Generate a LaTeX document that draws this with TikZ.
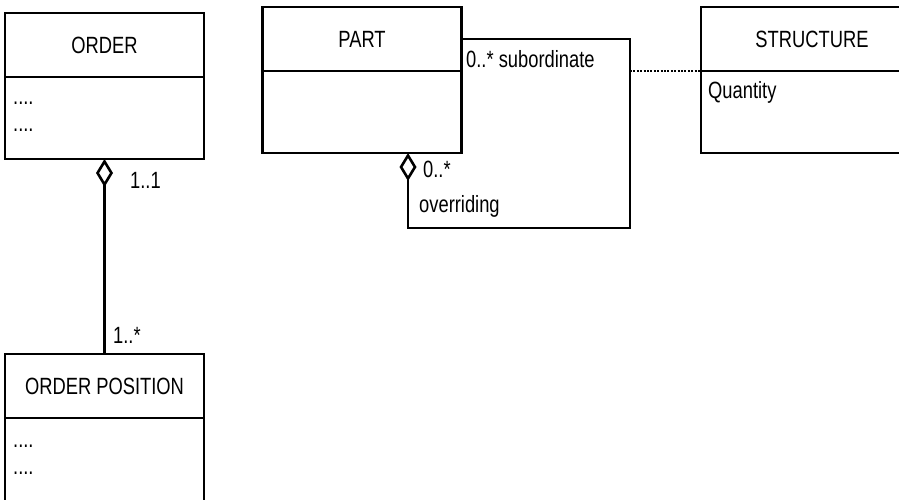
\documentclass[tikz,border=0pt]{standalone}
\usepackage{fontspec}
\setmainfont{Liberation Sans}[FakeStretch=0.78]
\usetikzlibrary{arrows.meta,calc}

\begin{document}
\begin{tikzpicture}[
    x=1pt, y=-1pt,
    cls/.style={draw, line width=2.6pt, outer sep=0pt, minimum width=#1, minimum height=64pt,
      font=\fontsize{23.5}{28}\selectfont},
    cls/.default=199pt,
    attrs/.style={draw, line width=2.6pt, outer sep=0pt, minimum width=#1, minimum height=82pt},
    attrs/.default=199pt,
    txt/.style={inner sep=0pt, anchor=base west, font=\fontsize{23.5}{28}\selectfont},
    aggr/.style={{Diamond[open, length=28pt, width=17pt]}-, line width=2.6pt},
    link/.style={line width=2.2pt, dash pattern=on 2pt off 1.4pt}
  ]
  \useasboundingbox (0,0) rectangle (899,499);
  \clip (0,0) rectangle (899,499);

  % classes
  \node[cls]      (order)     at (104.5,45) {ORDER};
  \node[attrs, anchor=north] (orderattr) at (order.south) {};
  \node[cls]      (part)      at (362,39)   {PART};
  \node[attrs, anchor=north] (partattr)  at (part.south) {};
  \node[cls=222pt] (structure) at (812,39)  {STRUCTURE};
  \node[attrs=222pt, anchor=north] (structattr) at (structure.south) {};
  \node[cls]      (ordpos)    at (104.5,386) {ORDER POSITION};
  \node[attrs, anchor=north, minimum height=110pt] (ordposattr) at (ordpos.south) {};

  % attributes
  \node[txt] (orderA)  at (13,104)  {....};
  \node[txt] (orderB)  at (13,131)  {....};
  \node[txt] (ordposA) at (13,447)  {....};
  \node[txt] (ordposB) at (13,474)  {....};
  \node[txt] (qty)     at (708,98)  {Quantity};

  % associations
  \coordinate (turn) at (630,228);
  \draw[aggr] (orderattr.south) -- (ordpos.north);
  \draw[aggr] ([xshift=46pt]partattr.south) |- (turn) |- (part.east);
  \draw[link] (turn |- structure.south) -- (structure.south west);

  % multiplicities and roles
  \node[txt] (m11)  at (130,188) {1..1};
  \node[txt] (m1n)  at (113,343) {1..*};
  \node[txt] (sub)  at (466,67)  {0..* subordinate};
  \node[txt] (m0n)  at (423,177) {0..*};
  \node[txt] (ovr)  at (419,212) {overriding};
\end{tikzpicture}
\end{document}
